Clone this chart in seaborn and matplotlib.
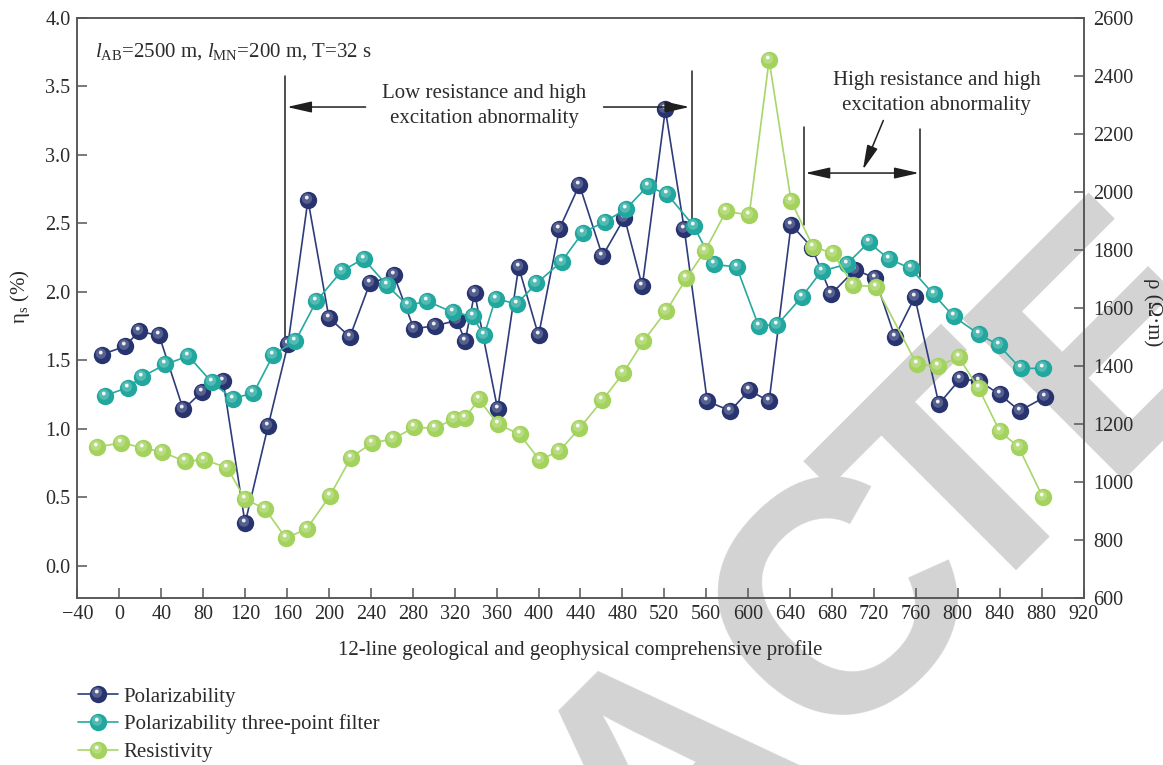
import numpy as np
import pandas as pd
import seaborn as sns
import matplotlib
matplotlib.use("Agg")
import matplotlib.pyplot as plt
from matplotlib.path import Path
from matplotlib.lines import Line2D
from matplotlib.legend_handler import HandlerTuple

# ---------------- data ----------------
pol_x = [-17, 5, 19, 38, 61, 79, 99, 120, 142, 161, 180, 200, 220, 239, 262, 281, 301,
         322, 330, 339, 361, 381, 400, 420, 439, 461, 482, 499, 521, 539, 561, 583, 601,
         620, 641, 661, 679, 702, 721, 740, 759, 782, 802, 820, 840, 859, 883]
pol_y = [1.54, 1.60, 1.71, 1.68, 1.14, 1.27, 1.35, 0.31, 1.02, 1.62, 2.67, 1.81, 1.67,
         2.06, 2.12, 1.73, 1.75, 1.79, 1.64, 1.99, 1.14, 2.18, 1.68, 2.46, 2.78, 2.26,
         2.54, 2.04, 3.33, 2.46, 1.20, 1.13, 1.28, 1.20, 2.49, 2.32, 1.98, 2.16, 2.10,
         1.67, 1.96, 1.18, 1.36, 1.35, 1.25, 1.13, 1.23]

filt_x = [-14, 8, 22, 44, 66, 88, 108, 128, 147, 168, 188, 212, 233, 255, 275, 294, 318,
          337, 348, 359, 379, 398, 422, 442, 463, 483, 504, 523, 548, 567, 589, 610, 628,
          651, 670, 694, 715, 734, 755, 777, 796, 820, 839, 860, 881]
filt_y = [1.24, 1.30, 1.38, 1.47, 1.53, 1.34, 1.22, 1.26, 1.54, 1.64, 1.93, 2.15, 2.24,
          2.05, 1.90, 1.93, 1.85, 1.82, 1.68, 1.95, 1.91, 2.06, 2.22, 2.43, 2.51, 2.60,
          2.77, 2.71, 2.48, 2.20, 2.18, 1.75, 1.76, 1.96, 2.15, 2.20, 2.36, 2.24, 2.17,
          1.98, 1.82, 1.69, 1.61, 1.44, 1.44]

res_x = [-21, 2, 23, 41, 63, 81, 103, 120, 139, 159, 179, 201, 221, 241, 261, 281, 301,
         319, 330, 343, 361, 382, 401, 420, 439, 461, 481, 500, 522, 541, 559, 579, 601,
         620, 641, 662, 681, 700, 722, 761, 781, 801, 820, 840, 858, 881]
res_y = [1122, 1136, 1119, 1104, 1072, 1078, 1050, 942, 909, 807, 841, 954, 1085, 1136,
         1149, 1189, 1187, 1217, 1222, 1286, 1201, 1165, 1077, 1108, 1186, 1283, 1377,
         1486, 1591, 1702, 1798, 1934, 1920, 2454, 1968, 1811, 1789, 1679, 1674, 1406,
         1401, 1430, 1324, 1176, 1122, 950]

series_labels = ["Polarizability", "Polarizability three-point filter", "Resistivity"]
x_ticks = list(range(-40, 921, 40))
left_ticks = [0.0, 0.5, 1.0, 1.5, 2.0, 2.5, 3.0, 3.5, 4.0]
right_ticks = list(range(600, 2601, 200))

# ---------------- style ----------------
sns.set_theme(style="ticks")
plt.rcParams.update({
    "font.family": ["Liberation Serif", "DejaVu Serif"],
    "mathtext.fontset": "custom",
    "mathtext.rm": "Liberation Serif",
    "mathtext.it": "Liberation Serif:italic",
    "font.size": 14.5,
    "axes.labelsize": 15,
    "axes.edgecolor": "#555555",
    "axes.linewidth": 1.1,
    "text.color": "#2b2b2b",
    "axes.labelcolor": "#2b2b2b",
    "xtick.color": "#555555",
    "ytick.color": "#555555",
})

NAVY, NAVY_L = "#27346f", "#2e3c7c"
TEAL, TEAL_L = "#22a79e", "#25a99f"
GREEN, GREEN_L = "#a3d25d", "#a8d66a"
TXT = "#2b2b2b"

fig = plt.figure(figsize=(11.63, 7.65), dpi=100)

# watermark (behind everything)
for ch, px, py in [("A", 737, 846), ("C", 911, 672), ("T", 1032, 551), ("E", 1180, 402)]:
    fig.text(px / 1163, 1 - py / 765, ch, rotation=45, rotation_mode="anchor",
             ha="center", va="baseline", fontsize=238, fontweight="bold",
             family="Liberation Sans", color="#d3d3d3", zorder=-5)

ax = fig.add_axes([0.06655, 0.21765, 0.8651, 0.7592])
ax.set_facecolor("none")
ax2 = ax.twinx()


def hl_path(cx, cy, r):
    circ = Path.circle(center=(cx, cy), radius=r)
    anchor = Path([(0.5, 0.5)], [Path.MOVETO])
    return Path.make_compound_path(anchor, circ)


GLOW = hl_path(-0.09, 0.11, 0.30)
SPOT = hl_path(-0.10, 0.17, 0.11)
MS = 12.5


def draw_series(axis, xs, ys, face, linec):
    sns.lineplot(x=xs, y=ys, ax=axis, color=linec, lw=1.2, marker="o", markersize=MS,
                 markerfacecolor=face, markeredgewidth=0, sort=False, legend=False)
    axis.plot(xs, ys, ls="none", marker=GLOW, markersize=MS, mfc="white", mew=0, alpha=0.22)
    axis.plot(xs, ys, ls="none", marker=SPOT, markersize=MS, mfc="white", mew=0, alpha=0.9)
    h = (Line2D([], [], color=linec, lw=1.2, marker="o", markersize=MS, mfc=face, mew=0),
         Line2D([], [], ls="none", marker=GLOW, markersize=MS, mfc="white", mew=0, alpha=0.22),
         Line2D([], [], ls="none", marker=SPOT, markersize=MS, mfc="white", mew=0, alpha=0.9))
    return h


h1 = draw_series(ax, pol_x, pol_y, NAVY, NAVY_L)
h2 = draw_series(ax, filt_x, filt_y, TEAL, TEAL_L)
h3 = draw_series(ax2, res_x, res_y, GREEN, GREEN_L)

# axes ranges / ticks
ax.set_xlim(-40, 920)
ax.set_ylim(-0.24, 4.0)
ax2.set_ylim(600, 2600)
ax.set_xticks(x_ticks)
ax.set_yticks(left_ticks)
ax.set_yticklabels([f"{t:.1f}" for t in left_ticks])
ax2.set_yticks(right_ticks)
for a in (ax, ax2):
    a.tick_params(direction="in", length=7, width=1.1, labelsize=14.5,
                  labelcolor=TXT, pad=5)
ax.tick_params(axis="y", right=False)
ax2.tick_params(axis="y", pad=7)
for a in (ax, ax2):
    for sp in a.spines.values():
        sp.set_color("#555555")
        sp.set_linewidth(1.1)

ax.set_xlabel("12-line geological and geophysical comprehensive profile", labelpad=11)
ax.set_ylabel("η$_{\\rm s}$ (%)", va="center")
ax.yaxis.set_label_coords(-0.057, 0.519)
ax2.set_ylabel("ρ (Ω·m)", rotation=270, va="center")
ax2.yaxis.set_label_coords(1.069, 0.493)

# annotations
ax.text(-23, 3.75, r"$\mathit{l}_{\rm AB}$=2500 m, $\mathit{l}_{\rm MN}$=200 m, T=32 s",
        va="center", ha="left", fontsize=15, color=TXT)
ax.text(348, 3.355, "Low resistance and high\nexcitation abnormality", ha="center",
        va="center", fontsize=15, color=TXT, linespacing=1.45)
ax.text(780, 3.45, "High resistance and high\nexcitation abnormality", ha="center",
        va="center", fontsize=15, color=TXT, linespacing=1.45)

LC = "#1f1f1f"
for xv, y0, y1 in [(158, 1.64, 3.574), (546, 2.48, 3.61), (653.5, 2.49, 3.20), (764, 2.11, 3.19)]:
    ax.plot([xv, xv], [y0, y1], color=LC, lw=1.1, zorder=1)

ar = dict(arrowstyle="-|>,head_length=0.75,head_width=0.17", color=LC, lw=1.1,
          mutation_scale=20, shrinkA=0, shrinkB=0)
ax.annotate("", xy=(160, 3.348), xytext=(235, 3.348), arrowprops=ar)
ax.annotate("", xy=(544, 3.348), xytext=(462, 3.348), arrowprops=ar)
ar2 = dict(ar)
ar2["arrowstyle"] = "<|-|>,head_length=0.75,head_width=0.17"
ax.annotate("", xy=(654.5, 2.866), xytext=(763, 2.866), arrowprops=ar2)
ax.annotate("", xy=(709.5, 2.89), xytext=(729, 3.25), arrowprops=ar)

fig.legend([h1, h2, h3], series_labels, loc="upper left",
           bbox_to_anchor=(78 / 1163, 1 - 687 / 765), frameon=False, borderaxespad=0,
           borderpad=0, handlelength=1.9, handletextpad=0.3, labelspacing=0.38,
           fontsize=15, handler_map={tuple: HandlerTuple(ndivide=1, pad=0)})

fig.savefig("out.png", dpi=100)
